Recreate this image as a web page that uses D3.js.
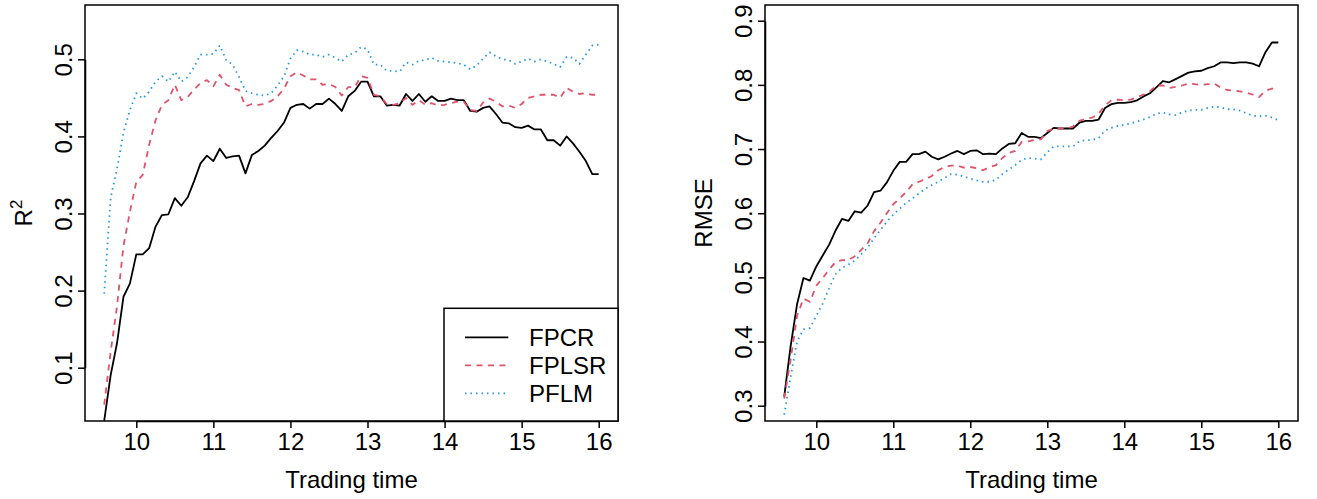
<!DOCTYPE html>
<html>
<head>
<meta charset="utf-8">
<script src="https://cdn.jsdelivr.net/npm/d3@7"></script>
<style>
body { margin: 0; background: #fff; }
svg { display: block; font-family: "Liberation Sans", Arial, sans-serif; }
.axis text { font-size: 24px; fill: #000; }
.axis line, .axis path { stroke: #000; stroke-width: 1.5; }
</style>
</head>
<body>
<svg width="1317" height="499"></svg>
<script>
// trading times (5 minute grid)
var tradingTimes = ["9:35","9:40","9:45","9:50","9:55",
    "10:00","10:05","10:10","10:15","10:20","10:25","10:30","10:35","10:40","10:45","10:50","10:55",
    "11:00","11:05","11:10","11:15","11:20","11:25","11:30","11:35","11:40","11:45","11:50","11:55",
    "12:00","12:05","12:10","12:15","12:20","12:25","12:30","12:35","12:40","12:45","12:50","12:55",
    "13:00","13:05","13:10","13:15","13:20","13:25","13:30","13:35","13:40","13:45","13:50","13:55",
    "14:00","14:05","14:10","14:15","14:20","14:25","14:30","14:35","14:40","14:45","14:50","14:55",
    "15:00","15:05","15:10","15:15","15:20","15:25","15:30","15:35","15:40","15:45","15:50","15:55",
    "16:00"];

var timeTicks = [10, 11, 12, 13, 14, 15, 16];
var r2Ticks = [0.1, 0.2, 0.3, 0.4, 0.5];
var rmseTicks = [0.3, 0.4, 0.5, 0.6, 0.7, 0.8, 0.9];
var methods = ["FPCR", "FPLSR", "PFLM"];

var r2FPCR = [0.031,0.090,0.132,0.192,0.209,0.247,0.247,0.255,0.283,0.298,0.299,0.320,0.310,0.321,0.342,0.365,0.375,0.368,0.384,0.372,
    0.374,0.375,0.352,0.376,0.381,0.388,0.398,0.407,0.418,0.437,0.441,0.442,0.436,0.442,0.442,0.449,0.442,0.433,0.452,0.459,
    0.471,0.471,0.452,0.452,0.440,0.441,0.440,0.455,0.446,0.455,0.445,0.452,0.446,0.446,0.449,0.447,0.447,0.433,0.432,0.437,
    0.439,0.429,0.418,0.417,0.412,0.411,0.414,0.409,0.409,0.395,0.395,0.388,0.400,0.391,0.380,0.368,0.351,0.351];
var r2FPLSR = [0.052,0.120,0.180,0.258,0.302,0.341,0.350,0.389,0.421,0.441,0.447,0.467,0.447,0.451,0.461,0.469,0.473,0.465,0.480,0.467,
    0.463,0.460,0.439,0.442,0.441,0.442,0.446,0.452,0.462,0.478,0.483,0.479,0.474,0.474,0.467,0.468,0.464,0.453,0.464,0.464,
    0.478,0.476,0.454,0.452,0.442,0.441,0.443,0.450,0.441,0.447,0.441,0.443,0.440,0.441,0.443,0.445,0.445,0.434,0.433,0.444,
    0.449,0.445,0.439,0.440,0.437,0.442,0.450,0.452,0.454,0.454,0.454,0.450,0.463,0.458,0.455,0.456,0.454,0.454];
var r2PFLM = [0.196,0.320,0.358,0.405,0.434,0.456,0.449,0.458,0.471,0.478,0.471,0.484,0.471,0.477,0.490,0.506,0.506,0.507,0.518,0.499,
    0.493,0.477,0.459,0.456,0.454,0.453,0.456,0.466,0.478,0.501,0.512,0.510,0.506,0.506,0.503,0.506,0.502,0.497,0.506,0.508,
    0.516,0.513,0.493,0.493,0.485,0.485,0.484,0.496,0.493,0.498,0.499,0.502,0.498,0.497,0.496,0.495,0.493,0.487,0.492,0.501,
    0.509,0.504,0.500,0.499,0.494,0.497,0.501,0.497,0.500,0.497,0.494,0.490,0.503,0.502,0.494,0.506,0.518,0.519];

var rmseFPCR = [0.314,0.393,0.458,0.499,0.495,0.517,0.534,0.551,0.573,0.591,0.588,0.603,0.601,0.612,0.633,0.635,0.648,0.666,0.680,0.680,
    0.692,0.692,0.696,0.688,0.684,0.688,0.693,0.697,0.692,0.697,0.698,0.692,0.693,0.692,0.701,0.708,0.709,0.725,0.719,0.719,
    0.717,0.725,0.733,0.732,0.732,0.732,0.741,0.744,0.744,0.746,0.764,0.770,0.772,0.772,0.773,0.776,0.782,0.787,0.796,0.806,
    0.804,0.809,0.814,0.819,0.821,0.822,0.826,0.829,0.835,0.835,0.834,0.835,0.835,0.833,0.829,0.851,0.866,0.866];
var rmseFPLSR = [0.311,0.372,0.440,0.467,0.462,0.487,0.499,0.512,0.524,0.527,0.527,0.533,0.543,0.553,0.572,0.585,0.600,0.614,0.623,0.633,
    0.645,0.649,0.653,0.658,0.667,0.672,0.674,0.674,0.671,0.672,0.670,0.667,0.672,0.675,0.686,0.694,0.697,0.711,0.712,0.714,
    0.715,0.728,0.732,0.732,0.732,0.735,0.744,0.747,0.749,0.755,0.768,0.776,0.777,0.776,0.777,0.781,0.785,0.790,0.799,0.799,
    0.795,0.797,0.799,0.802,0.801,0.800,0.801,0.802,0.796,0.792,0.791,0.790,0.788,0.785,0.781,0.791,0.794,0.794];
var rmsePFLM = [0.286,0.345,0.400,0.419,0.421,0.440,0.459,0.483,0.505,0.515,0.520,0.526,0.536,0.546,0.561,0.574,0.587,0.598,0.607,0.616,
    0.623,0.631,0.638,0.644,0.649,0.655,0.661,0.660,0.657,0.654,0.651,0.649,0.649,0.652,0.661,0.668,0.675,0.683,0.686,0.685,
    0.684,0.695,0.704,0.704,0.704,0.704,0.712,0.714,0.714,0.717,0.729,0.733,0.736,0.738,0.740,0.743,0.746,0.750,0.755,0.757,
    0.754,0.753,0.757,0.760,0.761,0.761,0.764,0.766,0.765,0.762,0.762,0.760,0.756,0.752,0.751,0.752,0.749,0.745];

var lineStyle = {
    FPCR:  {color: "#000000", dash: null},
    FPLSR: {color: "#DF536B", dash: "6,5.5"},
    PFLM:  {color: "#2297E6", dash: "1.5,4"}
};

var hours = tradingTimes.map(function (s) {
    var p = s.split(":");
    return +p[0] + (+p[1]) / 60;
});

var svg = d3.select("svg");

function drawPanel(p) {
    var g = svg.append("g");

    var x = d3.scaleLinear().domain([10, 16]).range(p.xRange);
    var y = d3.scaleLinear().domain(p.yDomain).range(p.yRange);

    var line = d3.line()
        .x(function (d, i) { return x(hours[i]); })
        .y(function (d) { return y(d); });

    p.series.forEach(function (vals, i) {
        var st = lineStyle[methods[i]];
        g.append("path")
            .datum(vals)
            .attr("fill", "none")
            .attr("stroke", st.color)
            .attr("stroke-width", 1.8)
            .attr("stroke-linejoin", "round")
            .attr("stroke-dasharray", st.dash)
            .attr("d", line);
    });

    g.append("rect")
        .attr("x", p.box[0])
        .attr("y", p.box[2])
        .attr("width", p.box[1] - p.box[0])
        .attr("height", p.box[3] - p.box[2])
        .attr("fill", "none")
        .attr("stroke", "#000")
        .attr("stroke-width", 1.5);

    g.append("g")
        .attr("class", "axis")
        .attr("transform", "translate(0," + p.box[3] + ")")
        .call(d3.axisBottom(x).tickValues(timeTicks).tickSize(7).tickSizeOuter(0).tickFormat(d3.format("d")))
        .call(function (a) {
            a.selectAll("text").attr("y", 29).attr("dy", 0);
        });

    g.append("g")
        .attr("class", "axis")
        .attr("transform", "translate(" + p.box[0] + ",0)")
        .call(d3.axisLeft(y).tickValues(p.yTicks).tickSize(7).tickSizeOuter(0).tickFormat(d3.format(".1f")))
        .call(function (a) {
            a.selectAll("text")
                .attr("transform", "rotate(-90)")
                .attr("x", 0)
                .attr("y", -13)
                .attr("dy", 0)
                .attr("text-anchor", "middle");
        });

    var cx = (p.box[0] + p.box[1]) / 2,
        cy = (p.box[2] + p.box[3]) / 2;

    svg.append("text")
        .attr("x", cx)
        .attr("y", 488)
        .attr("text-anchor", "middle")
        .attr("font-size", 24)
        .text("Trading time");

    var yl = svg.append("text")
        .attr("transform", "translate(" + (p.box[0] - 53) + "," + cy + ") rotate(-90)")
        .attr("text-anchor", "middle")
        .attr("font-size", 24);
    yl.append("tspan").text(p.ylabel);
    if (p.sup) {
        yl.append("tspan").attr("font-size", 17).attr("dy", -10).text(p.sup);
    }

    if (p.legend) {
        var lx = 444, ly = 308.3;
        g.append("rect")
            .attr("x", lx)
            .attr("y", ly)
            .attr("width", p.box[1] - lx)
            .attr("height", p.box[3] - ly)
            .attr("fill", "#fff")
            .attr("stroke", "#000")
            .attr("stroke-width", 1.5);
        methods.forEach(function (m, i) {
            var yy = 337.3 + i * 28;
            g.append("line")
                .attr("x1", 465).attr("x2", 508.3)
                .attr("y1", yy).attr("y2", yy)
                .attr("stroke", lineStyle[m].color)
                .attr("stroke-width", 1.8)
                .attr("stroke-dasharray", lineStyle[m].dash);
            g.append("text")
                .attr("x", 529)
                .attr("y", yy)
                .attr("dy", "0.36em")
                .attr("font-size", 24)
                .text(m);
        });
    }
}

drawPanel({
    box: [85, 618, 5, 421],
    xRange: [136.3, 598.7],
    yDomain: [0.1, 0.5],
    yRange: [367.7, 59.3],
    yTicks: r2Ticks,
    series: [r2FPCR, r2FPLSR, r2PFLM],
    ylabel: "R",
    sup: "2",
    legend: true
});

drawPanel({
    box: [765, 1298, 5, 421],
    xRange: [816.3, 1278.3],
    yDomain: [0.3, 0.9],
    yRange: [405.7, 20.7],
    yTicks: rmseTicks,
    series: [rmseFPCR, rmseFPLSR, rmsePFLM],
    ylabel: "RMSE",
    sup: null,
    legend: false
});
</script>
</body>
</html>
